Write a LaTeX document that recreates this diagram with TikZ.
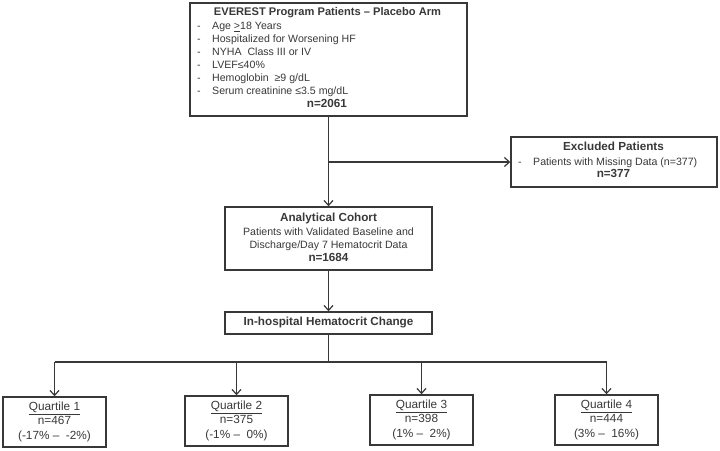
\documentclass[tikz,border=0pt]{standalone}
\usepackage{fontspec}
\setmainfont{Liberation Sans}
\usetikzlibrary{arrows.meta}
\definecolor{ink}{HTML}{383838}
\begin{document}
\begin{tikzpicture}[x=1pt,y=-1pt,
  box/.style={draw=ink, line width=1.4pt, inner sep=0pt},
  txt/.style={text=ink, inner sep=0pt, anchor=mid, font=\fontsize{10.6}{12}\selectfont},
  ltxt/.style={txt, anchor=mid west},
  hd/.style={text=ink, inner sep=0pt, anchor=mid, font=\fontsize{11.7}{13}\selectfont\bfseries},
  qt/.style={text=ink, inner sep=0pt, anchor=mid, font=\fontsize{11.8}{13}\selectfont},
  conn/.style={draw=ink, line width=1.2pt},
  arr/.style={conn, -{Straight Barb[length=5pt,width=9pt]}}]
\useasboundingbox (0,0) rectangle (720,450);

% top box
\node[box, minimum width=277pt, minimum height=113pt] (top) at (328.5,59.5) {};
\node[hd, font=\fontsize{11.1}{13}\selectfont\bfseries] (topt) at (327.5,13) {EVEREST Program Patients – Placebo Arm};
\foreach \yy/\tt [count=\i] in {27/{Age \underline{>}18 Years},40/{Hospitalized for Worsening HF},53/{NYHA\ \ Class III or IV},66/{LVEF≤40\%},79/{Hemoglobin \ ≥9 g/dL},92/{Serum creatinine ≤3.5 mg/dL}}{
  \node[txt] (dash\i) at (199,\yy) {-};
  \node[ltxt] (crit\i) at (212,\yy) {\tt};
}
\node[hd] (topn) at (327,105) {n=2061};

% excluded
\node[box, minimum width=206pt, minimum height=50pt] (excl) at (614,162) {};
\node[hd] (exclt) at (613.5,148) {Excluded Patients};
\node[txt] (excld) at (520,163) {-};
\node[ltxt] (excll) at (533,163) {Patients with Missing Data (n=377)};
\node[hd] (excln) at (613.5,175) {n=377};

% cohort
\node[box, minimum width=207pt, minimum height=63pt] (coh) at (328.5,238.5) {};
\node[hd] (coht) at (328.5,219) {Analytical Cohort};
\node[txt] (cohl1) at (328.5,233) {Patients with Validated Baseline and};
\node[txt] (cohl2) at (328.5,246) {Discharge/Day 7 Hematocrit Data};
\node[hd] (cohn) at (328.5,259) {n=1684};

% hospital change
\node[box, minimum width=207pt, minimum height=22pt] (hosp) at (328.5,323) {};
\node[hd] (hospt) at (328.5,323) {In-hospital Hematocrit Change};

% quartiles
\foreach \n/\xx/\yy/\nn/\rr in {1/54.5/422/467/{(-17\% –\ \ -2\%)},2/236.5/421/375/{(-1\% –\ \ 0\%)},3/421.5/420/398/{(1\% –\ \ 2\%)},4/606.5/420/444/{(3\% –\ \ 16\%)}}{
  \node[box, minimum width=103pt, minimum height=50pt] (q\n) at (\xx,\yy) {};
  \node[qt] (q\n t) at (\xx,\yy-14) {\underline{Quartile \n}};
  \node[qt] (q\n n) at (\xx,\yy) {n=\nn};
  \node[qt] (q\n r) at (\xx,\yy+14.5) {\rr};
}

% connectors
\draw[arr] (top.south) -- (coh.north);
\draw[arr] (top.south |- excl.west) -- (excl.west);
\draw[arr] (coh.south) -- (hosp.north);
\coordinate (jn) at (328.5,362);
\draw[conn] (hosp.south) -- (jn);
\draw[conn] (q1.north |- jn) -- (q4.north |- jn);
\foreach \n in {1,2,3,4}{
  \draw[arr] (q\n.north |- jn) -- (q\n.north);
}
\end{tikzpicture}
\end{document}
